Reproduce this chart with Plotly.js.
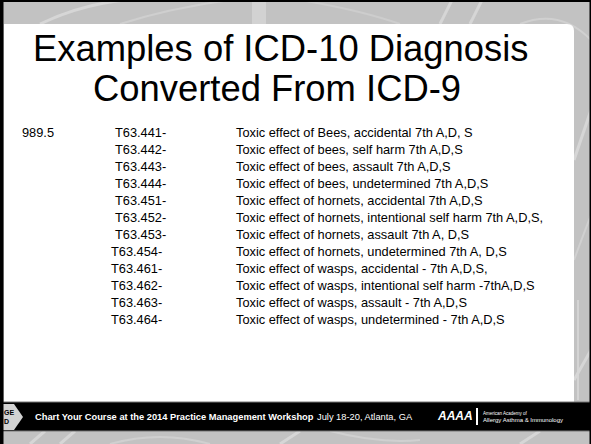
<!DOCTYPE html>
<html>
<head>
<meta charset="utf-8">
<script src="https://cdn.plot.ly/plotly-3.0.1.min.js"></script>
<style>html,body{margin:0;padding:0;background:#fff;}#chart{width:591px;height:444px;}</style>
</head>
<body>
<div id="chart"></div>
<script>
// ---- data ----
const slideTitle = ['Examples of ICD-10 Diagnosis', 'Converted From ICD-9'];
const icd9Codes = ['989.5'];
const icd10Codes = ['T63.441-','T63.442-','T63.443-','T63.444-','T63.451-','T63.452-','T63.453-','T63.454-','T63.461-','T63.462-','T63.463-','T63.464-'];
const descriptions = [
  'Toxic effect of Bees, accidental 7th A,D, S',
  'Toxic effect of bees, self harm 7th A,D,S',
  'Toxic effect of bees, assault 7th A,D,S',
  'Toxic effect of bees, undetermined 7th A,D,S',
  'Toxic effect of hornets, accidental 7th A,D,S',
  'Toxic effect of hornets, intentional self harm 7th A,D,S,',
  'Toxic effect of hornets, assault 7th A, D,S',
  'Toxic effect of hornets, undetermined 7th A, D,S',
  'Toxic effect of wasps, accidental - 7th A,D,S,',
  'Toxic effect of wasps, intentional self harm -7thA,D,S',
  'Toxic effect of wasps, assault - 7th A,D,S',
  'Toxic effect of wasps, undetermined - 7th A,D,S'
];
const footerBold = 'Chart Your Course at the 2014 Practice Management Workshop';
const footerPlain = 'July 18-20, Atlanta, GA';
const orgName = ['American Academy of', 'Allergy Asthma &amp; Immunology'];

// ---- layout helpers (styles/positions) ----
const rowIdx = icd10Codes.map((_, i) => i);
const codeX = icd10Codes.map((_, i) => i < 7 ? 115 : 111);
const FONT = 'Liberation Sans, Arial, sans-serif';
const textFont = {family: FONT, size: 12.8, color: '#000'};

const traces = [
  {type:'scatter', mode:'text', x:[22], y:[0], text:icd9Codes, textposition:'middle right',
   textfont:textFont, hoverinfo:'skip', showlegend:false},
  {type:'scatter', mode:'text', x:codeX, y:rowIdx, text:icd10Codes, textposition:'middle right',
   textfont:textFont, hoverinfo:'skip', showlegend:false},
  {type:'scatter', mode:'text', x:rowIdx.map(()=>236), y:rowIdx, text:descriptions, textposition:'middle right',
   textfont:textFont, hoverinfo:'skip', showlegend:false}
];

const lightLine = {color:'#d6d6d6', width:3};
const shapes = [
  // decorative background swooshes (gray frame)
  {type:'path', xref:'x', yref:'y2', path:'M 40 24 Q 90 0 150 -2', line:lightLine, layer:'below'},
  {type:'path', xref:'x', yref:'y2', path:'M 120 24 Q 170 8 230 0', line:{color:'#cfcfcf', width:2}, layer:'below'},
  {type:'rect', xref:'x', yref:'y2', x0:252, x1:266, y0:0, y1:24, fillcolor:'#d2d2d2', line:{width:0}, layer:'below'},
  {type:'path', xref:'x', yref:'y2', path:'M 300 0 Q 360 10 400 24', line:{color:'#cdcdcd', width:2}, layer:'below'},
  {type:'path', xref:'x', yref:'y2', path:'M 440 24 L 452 0', line:lightLine, layer:'below'},
  {type:'path', xref:'x', yref:'y2', path:'M 470 24 L 482 0', line:lightLine, layer:'below'},
  {type:'path', xref:'x', yref:'y2', path:'M 520 24 Q 560 8 591 40', line:{color:'#d0d0d0', width:2}, layer:'below'},
  {type:'path', xref:'x', yref:'y2', path:'M 574 160 L 591 110', line:lightLine, layer:'below'},
  {type:'path', xref:'x', yref:'y2', path:'M 574 260 Q 585 230 591 215', line:{color:'#d0d0d0', width:2}, layer:'below'},
  {type:'path', xref:'x', yref:'y2', path:'M 578 300 L 578 400', line:{color:'#d4d4d4', width:2}, layer:'below'},
  {type:'path', xref:'x', yref:'y2', path:'M 574 380 L 591 350', line:lightLine, layer:'below'},
  {type:'path', xref:'x', yref:'y2', path:'M 30 444 L 45 431', line:lightLine, layer:'below'},
  {type:'path', xref:'x', yref:'y2', path:'M 60 444 L 75 431', line:lightLine, layer:'below'},
  {type:'path', xref:'x', yref:'y2', path:'M 110 444 Q 160 430 210 444', line:{color:'#d0d0d0', width:2}, layer:'below'},
  {type:'path', xref:'x', yref:'y2', path:'M 280 444 L 300 431', line:lightLine, layer:'below'},
  {type:'path', xref:'x', yref:'y2', path:'M 330 431 Q 380 444 420 440', line:{color:'#d0d0d0', width:2}, layer:'below'},
  {type:'path', xref:'x', yref:'y2', path:'M 520 444 L 540 431', line:lightLine, layer:'below'},
  // white content panel (rounded top-right)
  {type:'path', xref:'x', yref:'y2', path:'M 4 24 L 567 24 Q 574 24 574 31 L 574 402 L 4 402 Z',
   fillcolor:'#ffffff', line:{width:0}, layer:'below'},
  // footer band
  {type:'rect', xref:'x', yref:'y2', x0:0, x1:591, y0:402, y1:431, fillcolor:'#000000', line:{color:'#777', width:1}, layer:'below'},
  // left arrow tab
  {type:'path', xref:'x', yref:'y2', path:'M 3 404 L 14 404 L 23 417 L 14 430 L 3 430 Z', fillcolor:'#d2d2d2', line:{width:0}, layer:'below'},
  // logo bar
  {type:'rect', xref:'x', yref:'y2', x0:476, x1:478, y0:408, y1:425, fillcolor:'#ffffff', line:{width:0}, layer:'below'},
  // slide border
  {type:'rect', xref:'x', yref:'y2', x0:0, x1:3.5, y0:0, y1:444, fillcolor:'#000', line:{width:0}},
  {type:'rect', xref:'x', yref:'y2', x0:0, x1:591, y0:0, y1:2, fillcolor:'#000', line:{width:0}},
  {type:'rect', xref:'x', yref:'y2', x0:589.5, x1:591, y0:0, y1:444, fillcolor:'#000', line:{width:0}}
];

const ann = (x, y, text, font, xanchor) => ({xref:'x', yref:'y2', x, y, text, font, xanchor: xanchor || 'left', yanchor:'middle', showarrow:false});
const annotations = [
  ann(281, 48, slideTitle[0], {family:FONT, size:36.4, color:'#000'}, 'center'),
  ann(277, 88, slideTitle[1], {family:FONT, size:36.4, color:'#000'}, 'center'),
  ann(33, 417, '<b>' + footerBold + '</b>', {family:FONT, size:9.3, color:'#fff'}),
  ann(315, 417, footerPlain, {family:FONT, size:9.3, color:'#fff'}),
  ann(435, 416, '<b><i>AAAA</i></b>', {family:FONT, size:12, color:'#fff'}),
  ann(481, 413, orgName[0], {family:FONT, size:4.5, color:'#fff'}),
  ann(481, 420, orgName[1], {family:FONT, size:6, color:'#fff'}),
  ann(2, 412, '<b>GE</b>', {family:FONT, size:7, color:'#000'}),
  ann(2, 421, '<b>D</b>', {family:FONT, size:7, color:'#000'})
];

const layout = {
  width:591, height:444, margin:{l:0,r:0,t:0,b:0,pad:0},
  paper_bgcolor:'#c2c2c2', plot_bgcolor:'rgba(0,0,0,0)',
  xaxis:{range:[0,591], visible:false, fixedrange:true},
  yaxis:{range:[18.235, -7.882], visible:false, fixedrange:true},
  yaxis2:{range:[444, 0], visible:false, overlaying:'y', fixedrange:true},
  shapes, annotations, showlegend:false, hovermode:false
};
Plotly.newPlot('chart', traces, layout, {displayModeBar:false, staticPlot:true});
</script>
</body>
</html>
